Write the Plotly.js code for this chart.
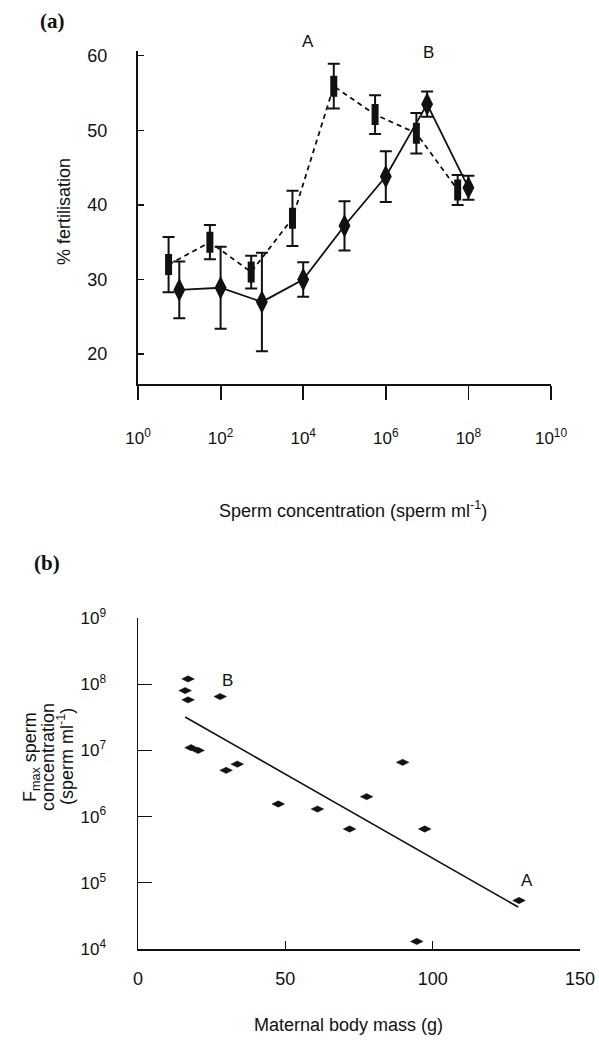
<!DOCTYPE html>
<html>
<head>
<meta charset="utf-8">
<script src="https://cdn.plot.ly/plotly-3.0.1.min.js"></script>
<style>html,body{margin:0;padding:0;background:#fff;}#chart{width:599px;height:1040px;}</style>
</head>
<body>
<div id="chart"></div>
<script>
// ---- Panel (a): % fertilisation vs sperm concentration ----
const squareConc = [5.5, 55, 550, 5500, 55000, 550000, 5500000, 55000000];
const squareFert = [32.0, 35.0, 31.0, 38.2, 55.9, 52.1, 49.6, 42.0];
const squareErr  = [3.7, 2.3, 2.2, 3.7, 3.0, 2.6, 2.7, 2.0];

const diamondConc = [10, 100, 1000, 10000, 100000, 1000000, 10000000, 100000000];
const diamondFert = [28.6, 28.9, 27.0, 30.0, 37.2, 43.8, 53.5, 42.3];
const diamondErr  = [3.8, 5.5, 6.6, 2.3, 3.3, 3.4, 1.7, 1.6];

const concTickVals = [1, 100, 10000, 1000000, 100000000, 10000000000];
const concTickText = ['10<sup>0</sup>', '10<sup>2</sup>', '10<sup>4</sup>', '10<sup>6</sup>', '10<sup>8</sup>', '10<sup>10</sup>'];
const fertTickVals = [20, 30, 40, 50, 60];

// ---- Panel (b): Fmax sperm concentration vs maternal body mass ----
const bodyMass = [17.0, 16.0, 17.0, 27.9, 18.0, 20.4, 29.9, 33.7, 47.6, 60.9, 71.8, 77.6, 89.8, 97.3, 129.3, 94.6];
const fmaxConc = [1.2e8, 8.0e7, 5.8e7, 6.5e7, 1.1e7, 1.0e7, 5.0e6, 6.2e6, 1.55e6, 1.3e6, 6.5e5, 2.0e6, 6.6e6, 6.5e5, 5.4e4, 1.3e4];
const fitMass = [16, 129];
const fitConc = [3.2e7, 4.3e4];

const fmaxTickVals = [1e4, 1e5, 1e6, 1e7, 1e8, 1e9];
const fmaxTickText = ['10<sup>4</sup>', '10<sup>5</sup>', '10<sup>6</sup>', '10<sup>7</sup>', '10<sup>8</sup>', '10<sup>9</sup>'];
const massTickVals = [0, 50, 100, 150];

const W = 599, H = 1040;
const px = v => v / W;
const py = v => 1 - v / H;
const FONT = 'Liberation Sans, Arial, Helvetica, sans-serif';
const SERIF = 'Liberation Serif, Times New Roman, serif';

const traces = [
  {
    x: squareConc, y: squareFert, xaxis: 'x', yaxis: 'y', type: 'scatter', mode: 'lines+markers',
    line: {color: '#111', width: 1.8, dash: '5px,4px'},
    marker: {symbol: 'line-ns', size: 15, color: '#111', line: {color: '#111', width: 7}},
    error_y: {type: 'data', array: squareErr, visible: true, color: '#111', thickness: 2, width: 6},
    showlegend: false, hoverinfo: 'x+y'
  },
  {
    x: diamondConc, y: diamondFert, xaxis: 'x', yaxis: 'y', type: 'scatter', mode: 'lines+markers',
    line: {color: '#111', width: 1.8},
    marker: {symbol: 'diamond-tall', size: 17, color: '#111', line: {width: 0}},
    error_y: {type: 'data', array: diamondErr, visible: true, color: '#111', thickness: 2, width: 6},
    showlegend: false, hoverinfo: 'x+y'
  },
  {
    x: fitMass, y: fitConc, xaxis: 'x2', yaxis: 'y2', type: 'scatter', mode: 'lines',
    line: {color: '#111', width: 1.6}, showlegend: false, hoverinfo: 'skip'
  },
  {
    x: bodyMass, y: fmaxConc, xaxis: 'x2', yaxis: 'y2', type: 'scatter', mode: 'markers',
    marker: {symbol: 'diamond-wide', size: 9, color: '#111', line: {color: '#111', width: 0.5}},
    showlegend: false, hoverinfo: 'x+y'
  }
];

const axisCommon = {
  showgrid: false, zeroline: false, showline: true, linecolor: '#111',
  tickcolor: '#111', automargin: false, fixedrange: true
};

const layout = {
  width: W, height: H,
  margin: {l: 0, r: 0, t: 0, b: 0},
  paper_bgcolor: '#fff', plot_bgcolor: '#fff',
  font: {family: FONT, color: '#111'},
  xaxis: Object.assign({}, axisCommon, {
    type: 'log', domain: [px(138), px(551)], range: [0, 10], anchor: 'y',
    linewidth: 2, ticks: 'outside', ticklen: 14, tickwidth: 1.8,
    tickvals: concTickVals, ticktext: concTickText,
    tickfont: {size: 17, family: FONT, color: '#111'}, ticklabelstandoff: 24
  }),
  yaxis: Object.assign({}, axisCommon, {
    domain: [py(384), py(50.7)], range: [16, 60.66], anchor: 'x',
    linewidth: 2, ticks: 'inside', ticklen: 6, tickwidth: 1.5,
    tickvals: fertTickVals,
    tickfont: {size: 18, family: FONT, color: '#111'}, ticklabelstandoff: 25
  }),
  xaxis2: Object.assign({}, axisCommon, {
    domain: [px(138), px(580)], range: [0, 150], anchor: 'y2',
    linewidth: 1.5, ticks: 'inside', ticklen: 8, tickwidth: 1.3,
    tickvals: massTickVals,
    tickfont: {size: 18, family: FONT, color: '#111'}, ticklabelstandoff: 13
  }),
  yaxis2: Object.assign({}, axisCommon, {
    type: 'log', domain: [py(949), py(618)], range: [4, 9], anchor: 'x2',
    linewidth: 1.5, ticks: 'inside', ticklen: 14, tickwidth: 1.3,
    tickvals: fmaxTickVals, ticktext: fmaxTickText,
    tickfont: {size: 17, family: FONT, color: '#111'}, ticklabelstandoff: 27
  }),
  annotations: [
    {text: '<b>(a)</b>', x: px(52), y: py(21), font: {family: SERIF, size: 21}},
    {text: '<b>(b)</b>', x: px(47), y: py(563), font: {family: SERIF, size: 21}},
    {text: 'A', x: px(308), y: py(42), font: {size: 17}},
    {text: 'B', x: px(428), y: py(52), font: {size: 17}},
    {text: 'B', x: px(227), y: py(680), font: {size: 17}},
    {text: 'A', x: px(527), y: py(880), font: {size: 17}},
    {text: '% fertilisation', x: px(64), y: py(212), textangle: -90, font: {size: 18}},
    {text: 'Sperm concentration (sperm ml<sup>-1</sup>)', x: px(353), y: py(509), font: {size: 18}},
    {text: 'F<sub>max</sub> sperm', x: px(31), y: py(757), textangle: -90, font: {size: 18}},
    {text: 'concentration', x: px(48), y: py(757), textangle: -90, font: {size: 18}},
    {text: '(sperm ml<sup>-1</sup>)', x: px(65), y: py(757), textangle: -90, font: {size: 18}},
    {text: 'Maternal body mass (g)', x: px(348), y: py(1025), font: {size: 18}}
  ].map(a => Object.assign({xref: 'paper', yref: 'paper', showarrow: false, xanchor: 'center', yanchor: 'middle'}, a, {font: Object.assign({family: FONT, color: '#111'}, a.font)}))
};

Plotly.newPlot('chart', traces, layout, {staticPlot: true, displayModeBar: false});
</script>
</body>
</html>
